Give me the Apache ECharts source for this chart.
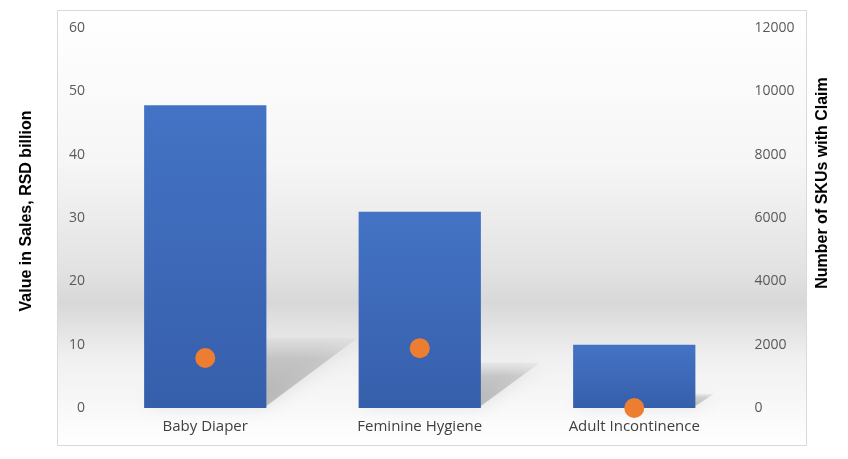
<!DOCTYPE html>
<html><head><meta charset="utf-8">
<script src="https://cdn.jsdelivr.net/npm/echarts@6/dist/echarts.min.js"></script>
<style>html,body{margin:0;padding:0;background:#fff}#c{width:848px;height:459px}</style>
</head><body><div id="c"></div>
<script>
const categories = ['Baby Diaper', 'Feminine Hygiene', 'Adult Incontinence'];
const salesValues = [47.8, 31, 10];
const skuValues = [1580, 1890, 0];
const leftTicks = [0, 60, 10];
const rightTicks = [0, 12000, 2000];

const chart = echarts.init(document.getElementById('c'), null, {renderer: 'canvas'});
const font = '"Open Sans", "Liberation Sans", sans-serif';
chart.setOption({
  animation: false,
  graphic: [{
    type: 'rect', z: -10, silent: true,
    shape: {x: 57.5, y: 10.5, width: 749, height: 435},
    style: {
      stroke: '#d9d9d9', lineWidth: 1,
      fill: new echarts.graphic.LinearGradient(0, 0, 0, 1, [
        {offset: 0, color: '#ffffff'},
        {offset: 0.35, color: '#f6f6f6'},
        {offset: 0.6, color: '#e2e2e2'},
        {offset: 0.67, color: '#d8d8d8'},
        {offset: 0.8, color: '#f0f0f0'},
        {offset: 1, color: '#ffffff'}
      ])
    }
  }, {
    type: 'text', silent: true, rotation: Math.PI / 2,
    x: 27, y: 211,
    style: {text: 'Value in Sales, RSD billion', font: 'bold 16px "Liberation Sans", Arial, sans-serif', fill: '#000', align: 'center', verticalAlign: 'middle'}
  }, {
    type: 'text', silent: true, rotation: Math.PI / 2,
    x: 823, y: 183,
    style: {text: 'Number of SKUs with Claim', font: 'bold 16px "Liberation Sans", Arial, sans-serif', fill: '#000', align: 'center', verticalAlign: 'middle'}
  }],
  grid: {left: 98, right: 106.5, top: 28, bottom: 51},
  xAxis: {
    type: 'category', data: categories,
    axisLine: {show: false}, axisTick: {show: false},
    axisLabel: {color: '#404040', fontSize: 15, fontFamily: font, margin: 11}
  },
  yAxis: [{
    type: 'value', min: leftTicks[0], max: leftTicks[1], interval: leftTicks[2],
    splitLine: {show: false}, axisLine: {show: false}, axisTick: {show: false},
    axisLabel: {color: '#595959', fontSize: 14, fontFamily: font, margin: 13}
  }, {
    type: 'value', min: rightTicks[0], max: rightTicks[1], interval: rightTicks[2],
    splitLine: {show: false}, axisLine: {show: false}, axisTick: {show: false},
    axisLabel: {color: '#595959', fontSize: 14, fontFamily: font, margin: 13, formatter: v => String(v)}
  }],
  series: [{
    type: 'custom', yAxisIndex: 0, z: 1, silent: true,
    data: salesValues.map((v, i) => [i, v]),
    renderItem: function (params, api) {
      const base = api.coord([api.value(0), 0]);
      const top = api.coord([api.value(0), api.value(1)]);
      const w = api.size([1, 0])[0] * 0.57;
      const h = base[1] - top[1];
      const x0 = base[0] - w / 2, x1 = base[0] + w / 2, y0 = base[1];
      const dx = h * 0.3, dy = h * 0.23;
      return {
        type: 'polygon',
        shape: {points: [[x0, y0 - 2], [x1, y0 - 2], [x1 + dx, y0 - dy], [x0 + dx, y0 - dy]]},
        style: {
          fill: new echarts.graphic.LinearGradient(0, 1, 0, 0, [
            {offset: 0, color: 'rgba(90,90,90,0.35)'},
            {offset: 0.7, color: 'rgba(110,110,110,0.25)'},
            {offset: 1, color: 'rgba(140,140,140,0.08)'}
          ]),
          shadowBlur: 18, shadowColor: 'rgba(110,110,110,0.5)'
        }
      };
    }
  }, {
    type: 'bar', yAxisIndex: 0, data: salesValues, barWidth: '57%', z: 2,
    itemStyle: {
      color: new echarts.graphic.LinearGradient(0, 0, 0, 1, [
        {offset: 0, color: '#4473c5'},
        {offset: 1, color: '#365fab'}
      ])
    }
  }, {
    type: 'scatter', yAxisIndex: 1, data: skuValues, symbolSize: 20, z: 3,
    itemStyle: {color: '#ED7D31', opacity: 1}
  }]
});
</script></body></html>
